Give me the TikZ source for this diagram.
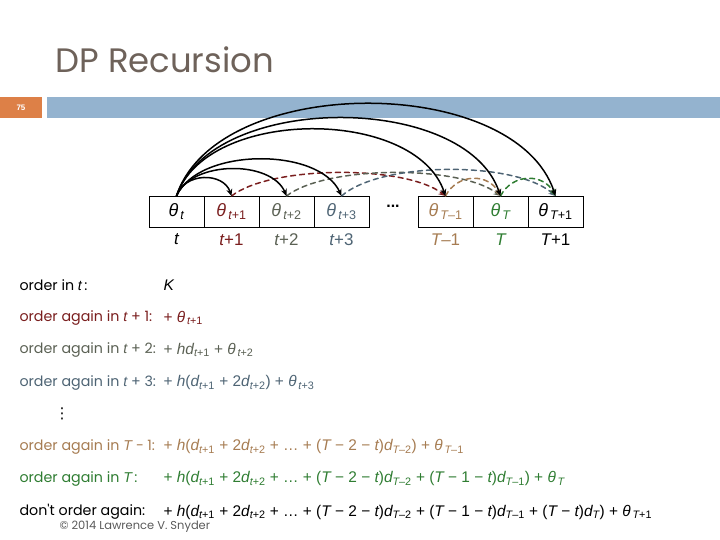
\documentclass[tikz,border=0pt]{standalone}
\usepackage{fontspec}
\setmainfont{Liberation Sans}
\newfontfamily\geo{Poppins}
\newfontfamily\dejavu{DejaVu Sans}
\usetikzlibrary{arrows.meta,positioning}
\definecolor{ttl}{HTML}{6E625A}
\definecolor{barblue}{HTML}{94B3CF}
\definecolor{barorange}{HTML}{DD8047}
\definecolor{maroon}{HTML}{7A1E1E}
\definecolor{olive}{HTML}{5B6154}
\definecolor{slate}{HTML}{4E6474}
\definecolor{tan}{HTML}{A67C52}
\definecolor{leaf}{HTML}{2F7D32}
\definecolor{note}{HTML}{5A5A5A}

\newcommand{\vi}[1]{{\normalfont\itshape #1}}
\newcommand{\low}[2]{\vi{#1}\textsubscript{#2}}

\begin{document}
\begin{tikzpicture}[x=1bp,y=-1bp,>={Stealth[length=7bp,width=6bp]},line cap=round,
  cell/.style={draw,line width=.6bp,minimum width=55bp,minimum height=31bp,
    inner sep=0pt,outer sep=0pt,font=\fontsize{18}{20}\selectfont},
  period/.style={font=\fontsize{17}{19}\selectfont},
  arc/.style={->,line width=1.5bp},
  darc/.style={->,line width=1.5bp,dash pattern=on 5bp off 4bp},
  rowlab/.style={anchor=west,font=\geo\fontsize{14.3}{16}\selectfont},
  rowexp/.style={anchor=west,font=\fontsize{15.5}{17}\selectfont}]
  \useasboundingbox (0,0) rectangle (720,540);

  % Slide title and bar.
  \node[ttl,anchor=base west,font=\geo\fontsize{34}{38}\selectfont] (title)
    at (52,73) {DP Recursion};
  \fill[barorange] (0,97) rectangle (42,118);
  \fill[barblue] (47,97) rectangle (720,118);
  \node[white,font=\bfseries\fontsize{8}{9}\selectfont] (page) at (21,108) {75};

  % Periods.
  \node[cell] (c0) at (176.5,211.5) {\low{θ}{\,\vi{t}}};
  \node[cell,right=0pt of c0,text=maroon] (c1) {\low{θ}{\,\vi{t}+1}};
  \node[cell,right=0pt of c1,text=olive] (c2) {\low{θ}{\,\vi{t}+2}};
  \node[cell,right=0pt of c2,text=slate] (c3) {\low{θ}{\,\vi{t}+3}};
  \node[cell,right=49bp of c3,text=tan] (c4) {\low{θ}{\,\vi{T}–1}};
  \node[cell,right=0pt of c4,text=leaf] (c5) {\low{θ}{\,\vi{T}}};
  \node[cell,right=0pt of c5] (c6) {\low{θ}{\,\vi{T}+1}};
  \node[font=\bfseries\fontsize{16}{18}\selectfont] (dots) at (393,206) {...};

  \node[period,below=3bp of c0] (p0) {\vi{t}};
  \node[period,below=3bp of c1,maroon] (p1) {\vi{t}+1};
  \node[period,below=3bp of c2,olive] (p2) {\vi{t}+2};
  \node[period,below=3bp of c3,slate] (p3) {\vi{t}+3};
  \node[period,below=3bp of c4,tan] (p4) {\vi{T}–1};
  \node[period,below=3bp of c5,leaf] (p5) {\vi{T}};
  \node[period,below=3bp of c6] (p6) {\vi{T}+1};

  % Order again later.
  \draw[darc,maroon] (c1.north) .. controls +(40,-31) and +(-40,-31) .. (c4.north);
  \draw[darc,olive] (c2.north) .. controls +(40,-31) and +(-40,-31) .. (c5.north);
  \draw[darc,slate] (c3.north) .. controls +(40,-35) and +(-40,-35) .. (c6.north);
  \draw[darc,tan] (c4.north) .. controls +(12,-23) and +(-12,-23) .. (c5.north);
  \draw[darc,leaf] (c5.north) .. controls +(12,-23) and +(-12,-23) .. (c6.north);

  \draw[arc] (c0.north) .. controls +(8,-24) and +(-8,-24) .. (c1.north);
  \draw[arc] (c0.north) .. controls +(15,-36) and +(-15,-36) .. (c2.north);
  \draw[arc] (c0.north) .. controls +(22,-49) and +(-22,-49) .. (c3.north);
  \draw[arc] (c0.north) .. controls +(30,-89) and +(-30,-89) .. (c4.north);
  \draw[arc] (c0.north) .. controls +(35,-104) and +(-35,-104) .. (c5.north);
  \draw[arc] (c0.north) .. controls +(40,-123) and +(-40,-123) .. (c6.north);

  % Cost of each choice.
  \node[rowlab] (lab0) at (16,285) {order in \vi{t}\,:};
  \node[rowexp] (exp0) at (160,285) {\vi{K}};
  \node[rowlab,maroon] (lab1) at (16,318) {order again in \vi{t} + 1:};
  \node[rowexp,maroon] (exp1) at (160,318) {+ \low{θ}{\,\vi{t}+1}};
  \node[rowlab,olive] (lab2) at (16,350) {order again in \vi{t} + 2:};
  \node[rowexp,olive] (exp2) at (160,350) {+ \vi{h}\low{d}{\vi{t}+1} + \low{θ}{\,\vi{t}+2}};
  \node[rowlab,slate] (lab3) at (16,383) {order again in \vi{t} + 3:};
  \node[rowexp,slate] (exp3) at (160,383)
    {+ \vi{h}(\low{d}{\vi{t}+1} + 2\low{d}{\vi{t}+2}) + \low{θ}{\,\vi{t}+3}};
  \node[font=\dejavu\fontsize{15}{17}\selectfont] (vdots) at (62,414) {⋮};
  \node[rowlab,tan] (lab4) at (16,447) {order again in \vi{T} − 1:};
  \node[rowexp,tan] (exp4) at (160,447)
    {+ \vi{h}(\low{d}{\vi{t}+1} + 2\low{d}{\vi{t}+2} + … + (\vi{T} − 2 − \vi{t})\low{d}{\vi{T}–2}) + \low{θ}{\,\vi{T}–1}};
  \node[rowlab,leaf] (lab5) at (16,479) {order again in \vi{T}\,:};
  \node[rowexp,leaf] (exp5) at (160,479)
    {+ \vi{h}(\low{d}{\vi{t}+1} + 2\low{d}{\vi{t}+2} + … + (\vi{T} − 2 − \vi{t})\low{d}{\vi{T}–2} + (\vi{T} − 1 − \vi{t})\low{d}{\vi{T}–1}) + \low{θ}{\,\vi{T}}};
  \node[rowlab] (lab6) at (16,512) {don't order again:};
  \node[rowexp] (exp6) at (160,512)
    {+ \vi{h}(\low{d}{\vi{t}+1} + 2\low{d}{\vi{t}+2} + … + (\vi{T} − 2 − \vi{t})\low{d}{\vi{T}–2} + (\vi{T} − 1 − \vi{t})\low{d}{\vi{T}–1} + (\vi{T} − \vi{t})\low{d}{\vi{T}}) + \low{θ}{\,\vi{T}+1}};
  \node[note,anchor=west,font=\geo\fontsize{11.5}{12}\selectfont] (credit)
    at (56,527) {© 2014 Lawrence V. Snyder};
\end{tikzpicture}
\end{document}
